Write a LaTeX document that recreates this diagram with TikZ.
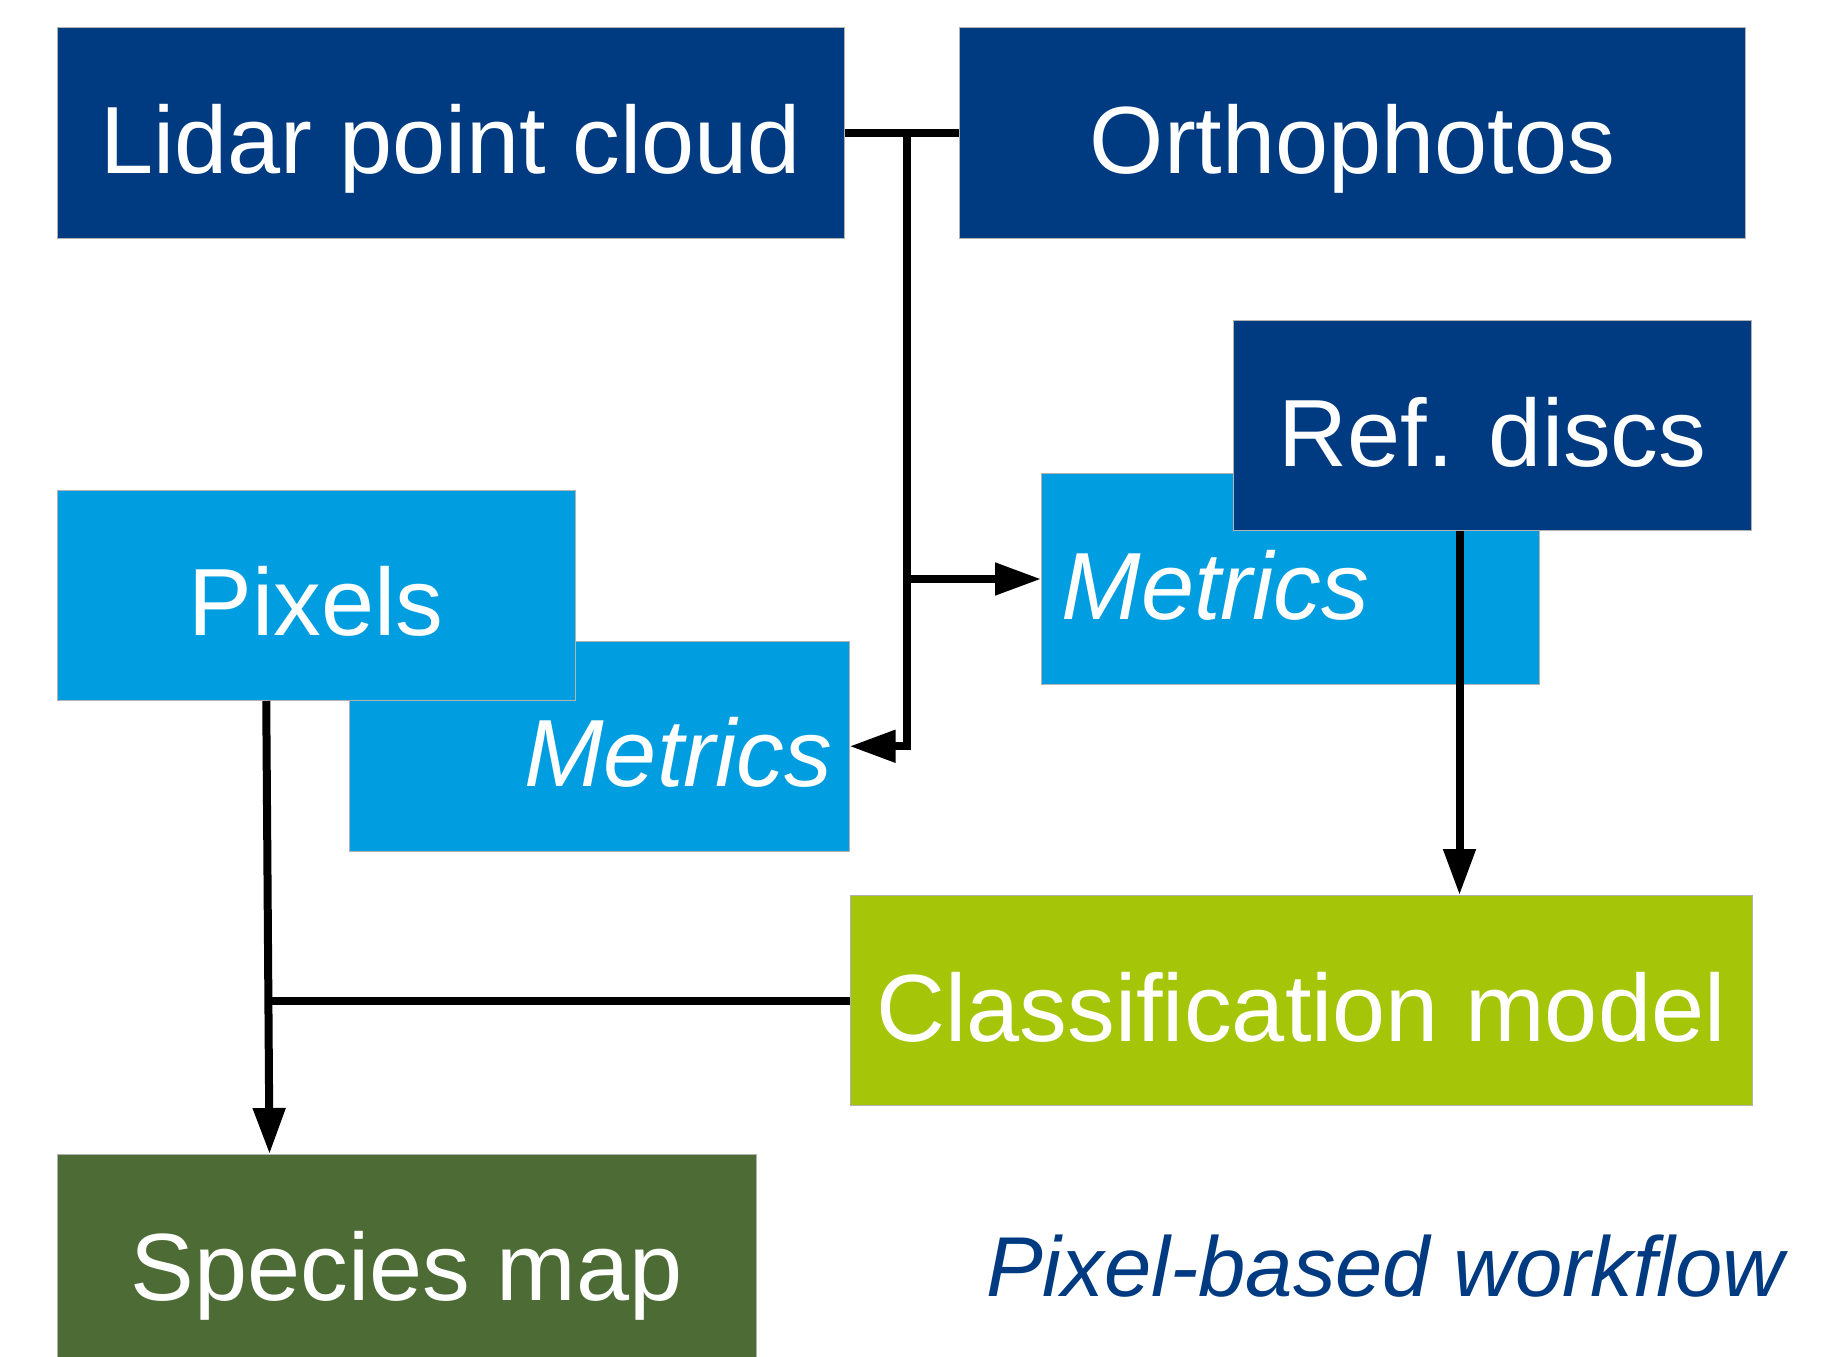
\documentclass[tikz,border=0pt]{standalone}
\usepackage{fontspec}
\setmainfont{Liberation Sans}
\usetikzlibrary{arrows.meta}
\definecolor{dblue}{RGB}{0,58,128}
\definecolor{lblue}{RGB}{0,158,224}
\definecolor{lgreen}{RGB}{165,197,8}
\definecolor{dgreen}{RGB}{77,107,52}
\begin{document}
\begin{tikzpicture}[x=1pt,y=-1pt,
 box/.style={draw=black!30, line width=1pt, anchor=north west, inner sep=0pt, text=white,
   font=\fontsize{95.5}{108}\selectfont, text height=81pt, text depth=0pt},
 conn/.style={line width=8pt},
 arr/.style={conn, -{Triangle[length=46pt,width=31pt]}}]
\useasboundingbox (0,0) rectangle (1845,1357);
\fill[white] (0,0) rectangle (1845,1357);

\node[box, fill=dblue, minimum width=787.5pt, minimum height=211pt] (lidar) at (56.5,27) {Lidar point cloud};
\node[box, fill=dblue, minimum width=786pt, minimum height=211pt] (ortho) at (959,27) {Orthophotos};
\node[box, fill=lblue, minimum height=211pt, inner xsep=20pt, text width=458pt, align=left] (metR) at (1041,473) {\itshape Metrics};
\node[box, fill=dblue, minimum width=518pt, minimum height=210pt] (ref) at (1233,320) {Ref. discs};
\node[box, fill=lblue, minimum height=209.5pt, inner xsep=17pt, text width=465.6pt, align=right] (metL) at (349,641) {\itshape Metrics};
\node[box, fill=lblue, minimum width=518.5pt, minimum height=210.5pt] (pix) at (56.5,489.5) {Pixels};
\node[box, fill=lgreen, minimum width=902pt, minimum height=210pt] (cls) at (849.6,895) {Classification model};
\node[box, fill=dgreen, minimum width=699pt, minimum height=210pt] (spec) at (56.5,1154) {Species map};
\node[anchor=base west, text=dblue, font=\fontsize{85}{100}\selectfont\itshape, inner sep=0pt] (title) at (986,1296.7) {Pixel-based workflow};

\draw[conn] (lidar.east) -- (ortho.west);
\coordinate (j1) at (906.5,132.5);
\draw[arr] (j1) |- (metL.east);
\coordinate (j2) at (j1 |- metR.west);
\draw[arr] (j2) -- (metR.west);
\draw[arr] ([xshift=-33pt]ref.south) -- ([xshift=-33pt]ref.south |- cls.north);
\path ([xshift=-50pt]pix.south) -- ([xshift=-137pt]spec.north) coordinate[pos=0.67] (j3);
\draw[arr] ([xshift=-50pt]pix.south) -- ([xshift=-137pt]spec.north);
\draw[conn] (cls.west) -- (cls.west -| j3);
\end{tikzpicture}
\end{document}
